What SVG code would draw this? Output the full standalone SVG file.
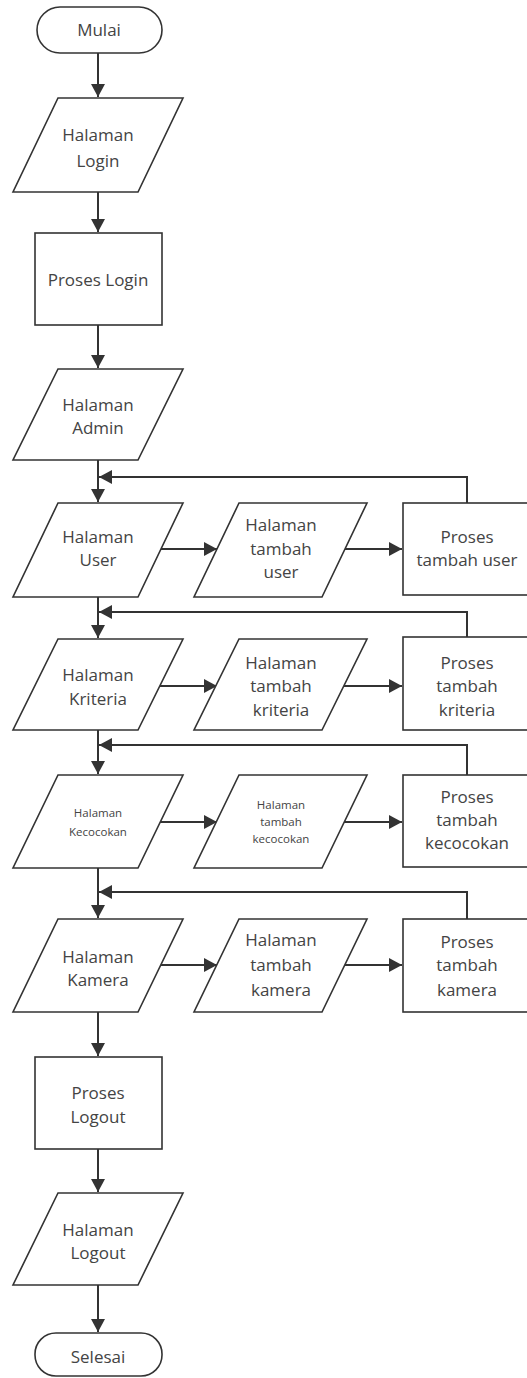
<svg xmlns="http://www.w3.org/2000/svg" width="527" height="1378" viewBox="0 0 527 1378">
<style>
.s{fill:#fff;stroke:#333;stroke-width:1.6}
.c{fill:none;stroke:#333;stroke-width:2}
.t{font-family:"Open Sans","Liberation Sans",sans-serif;font-size:17px;fill:#444;text-anchor:middle}
.sm{font-size:11.5px}
</style>
<defs>
<marker id="ah" markerWidth="14" markerHeight="14" refX="13" refY="7" orient="auto" markerUnits="userSpaceOnUse">
<path d="M0,0 L13,7 L0,14 z" fill="#333"/>
</marker>
</defs>
<rect width="527" height="1378" fill="#fff"/>
<g id="connectors">
<path class="c" d="M98,53 V97" marker-end="url(#ah)"/>
<path class="c" d="M98,192 V232" marker-end="url(#ah)"/>
<path class="c" d="M98,325 V368" marker-end="url(#ah)"/>
<path class="c" d="M98,460 V502" marker-end="url(#ah)"/>
<path class="c" d="M467,503 V477 H99" marker-end="url(#ah)"/>
<path class="c" d="M160,549 H217" marker-end="url(#ah)"/>
<path class="c" d="M344,549 H402" marker-end="url(#ah)"/>
<path class="c" d="M98,597 V638" marker-end="url(#ah)"/>
<path class="c" d="M467,637 V612 H99" marker-end="url(#ah)"/>
<path class="c" d="M160,686 H217" marker-end="url(#ah)"/>
<path class="c" d="M344,686 H402" marker-end="url(#ah)"/>
<path class="c" d="M98,730 V774" marker-end="url(#ah)"/>
<path class="c" d="M467,775 V745 H99" marker-end="url(#ah)"/>
<path class="c" d="M160,822 H217" marker-end="url(#ah)"/>
<path class="c" d="M344,822 H402" marker-end="url(#ah)"/>
<path class="c" d="M98,868 V918" marker-end="url(#ah)"/>
<path class="c" d="M467,919 V892 H99" marker-end="url(#ah)"/>
<path class="c" d="M160,965 H217" marker-end="url(#ah)"/>
<path class="c" d="M344,965 H402" marker-end="url(#ah)"/>
<path class="c" d="M98,1012 V1056" marker-end="url(#ah)"/>
<path class="c" d="M98,1149 V1192" marker-end="url(#ah)"/>
<path class="c" d="M98,1285 V1332" marker-end="url(#ah)"/>
</g>
<g id="mulai"><rect class="s" x="37" y="7" width="125" height="46" rx="23"/><text class="t" x="99" y="36">Mulai</text></g>
<g id="halaman-login"><path class="s" d="M58,98 H183 L138,192 H13 Z"/><text class="t" x="98" y="141">Halaman</text><text class="t" x="98" y="167">Login</text></g>
<g id="proses-login"><rect class="s" x="35" y="233" width="127" height="92"/><text class="t" x="98" y="286">Proses Login</text></g>
<g id="halaman-admin"><path class="s" d="M58,369 H183 L138,460 H13 Z"/><text class="t" x="98" y="411">Halaman</text><text class="t" x="98" y="434">Admin</text></g>
<g id="halaman-user"><path class="s" d="M58,503 H183 L138,597 H13 Z"/><text class="t" x="98" y="543">Halaman</text><text class="t" x="98" y="566">User</text></g>
<g id="halaman-tambah-user"><path class="s" d="M239,503 H367 L322,597 H194 Z"/><text class="t" x="281" y="531">Halaman</text><text class="t" x="281" y="555">tambah</text><text class="t" x="281" y="578">user</text></g>
<g id="proses-tambah-user"><rect class="s" x="403" y="503" width="126" height="92"/><text class="t" x="467" y="543">Proses</text><text class="t" x="467" y="566">tambah user</text></g>
<g id="halaman-kriteria"><path class="s" d="M58,639 H183 L138,730 H13 Z"/><text class="t" x="98" y="681">Halaman</text><text class="t" x="98" y="705">Kriteria</text></g>
<g id="halaman-tambah-kriteria"><path class="s" d="M239,639 H367 L322,730 H194 Z"/><text class="t" x="281" y="669">Halaman</text><text class="t" x="281" y="692">tambah</text><text class="t" x="281" y="716">kriteria</text></g>
<g id="proses-tambah-kriteria"><rect class="s" x="403" y="637" width="126" height="93"/><text class="t" x="467" y="669">Proses</text><text class="t" x="467" y="692">tambah</text><text class="t" x="467" y="716">kriteria</text></g>
<g id="halaman-kecocokan"><path class="s" d="M58,775 H183 L138,868 H13 Z"/><text class="t sm" x="98" y="817">Halaman</text><text class="t sm" x="98" y="836">Kecocokan</text></g>
<g id="halaman-tambah-kecocokan"><path class="s" d="M239,775 H367 L322,868 H194 Z"/><text class="t sm" x="281" y="809">Halaman</text><text class="t sm" x="281" y="826">tambah</text><text class="t sm" x="281" y="843">kecocokan</text></g>
<g id="proses-tambah-kecocokan"><rect class="s" x="403" y="775" width="126" height="92"/><text class="t" x="467" y="803">Proses</text><text class="t" x="467" y="826">tambah</text><text class="t" x="467" y="849">kecocokan</text></g>
<g id="halaman-kamera"><path class="s" d="M58,919 H183 L138,1012 H13 Z"/><text class="t" x="98" y="963">Halaman</text><text class="t" x="98" y="986">Kamera</text></g>
<g id="halaman-tambah-kamera"><path class="s" d="M239,919 H367 L322,1012 H194 Z"/><text class="t" x="281" y="946">Halaman</text><text class="t" x="281" y="971">tambah</text><text class="t" x="281" y="996">kamera</text></g>
<g id="proses-tambah-kamera"><rect class="s" x="403" y="919" width="126" height="93"/><text class="t" x="467" y="948">Proses</text><text class="t" x="467" y="971">tambah</text><text class="t" x="467" y="996">kamera</text></g>
<g id="proses-logout"><rect class="s" x="35" y="1057" width="127" height="92"/><text class="t" x="98" y="1099">Proses</text><text class="t" x="98" y="1123">Logout</text></g>
<g id="halaman-logout"><path class="s" d="M58,1193 H183 L138,1285 H13 Z"/><text class="t" x="98" y="1236">Halaman</text><text class="t" x="98" y="1259">Logout</text></g>
<g id="selesai"><rect class="s" x="35" y="1333" width="127" height="43" rx="21"/><text class="t" x="98" y="1363">Selesai</text></g>
</svg>
